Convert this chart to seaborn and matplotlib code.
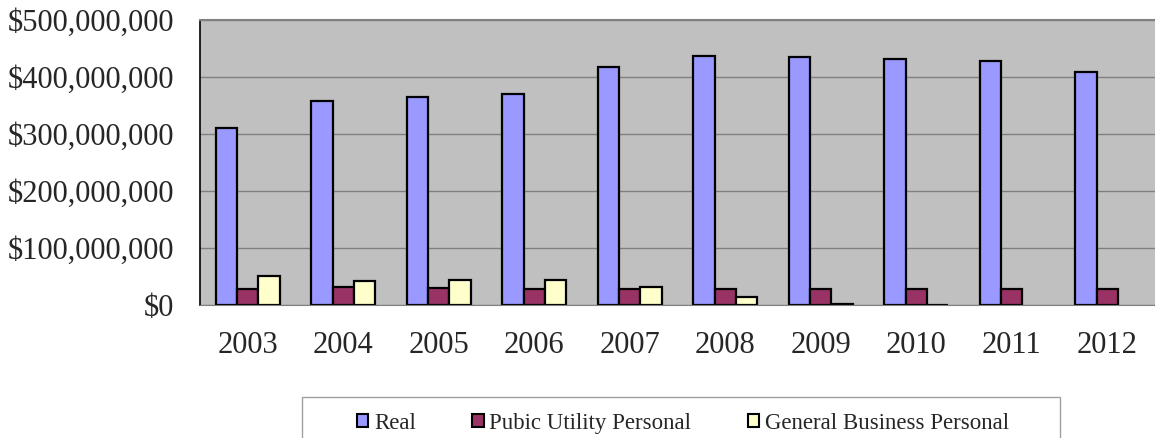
import pandas as pd
import matplotlib
matplotlib.use("Agg")
import matplotlib.pyplot as plt
import matplotlib.ticker as mticker
import seaborn as sns

years = ["2003", "2004", "2005", "2006", "2007", "2008", "2009", "2010", "2011", "2012"]
real = [311e6, 358e6, 365e6, 370e6, 418e6, 437e6, 435e6, 432e6, 428e6, 408e6]
public_utility = [28e6, 31e6, 30e6, 28.5e6, 28e6, 27.5e6, 28.5e6, 27.5e6, 27.5e6, 27.5e6]
general_business = [51e6, 41.5e6, 44e6, 44e6, 31.5e6, 14e6, 1.5e6, 0.7e6, None, None]
series_names = ["Real", "Pubic Utility Personal", "General Business Personal"]
colors = ["#9999FF", "#993366", "#FFFFCC"]

df = pd.DataFrame({
    "year": years * 3,
    "value": real + public_utility + general_business,
    "series": [s for s in series_names for _ in years],
}).dropna()

sns.set_style("white")
plt.rcParams["font.family"] = ["Liberation Serif", "DejaVu Serif"]

fig = plt.figure(figsize=(11.55, 4.38), dpi=100)
ax = fig.add_axes([200 / 1155, (438 - 305) / 438, 955 / 1155, 285 / 438])
ax.set_facecolor("#C0C0C0")

sns.barplot(
    data=df, x="year", y="value", hue="series",
    order=years, hue_order=series_names,
    palette=colors, saturation=1, width=0.67,
    edgecolor="black", linewidth=1.6, ax=ax, legend=False,
)

ax.set_ylim(0, 500e6)
ax.set_xlim(-0.5, len(years) - 0.5)
ax.set_yticks(range(0, 500_000_001, 100_000_000))
ax.yaxis.set_major_formatter(mticker.FuncFormatter(lambda v, p: f"${v:,.0f}"))
ax.grid(axis="y", color="#808080", linewidth=1)
ax.set_axisbelow(True)
ax.set_xlabel("")
ax.set_ylabel("")

ax.set_xticks([i - 0.5 for i in range(len(years) + 1)], minor=True)
ax.tick_params(axis="x", which="major", length=0, pad=19, labelsize=22)
ax.tick_params(axis="x", which="minor", length=8, color="#808080", width=1)
ax.tick_params(axis="y", length=8, color="#808080", width=1, pad=10.5, labelsize=22)

ax.spines["right"].set_visible(False)
ax.spines["top"].set_color("#808080")
ax.spines["top"].set_linewidth(1.5)
ax.spines["bottom"].set_color("#808080")
ax.spines["left"].set_color("black")
ax.spines["left"].set_linewidth(1.2)

# legend frame, runs past the bottom edge like the original
fig.patches.append(plt.Rectangle(
    (302 / 1155, -0.1), (1060 - 302) / 1155, 1.1 - 397 / 438,
    transform=fig.transFigure, facecolor="white", edgecolor="#A0A0A0", linewidth=1,
))

handles = [plt.Rectangle((0, 0), 1, 1, facecolor=c, edgecolor="black", linewidth=1.5) for c in colors]
fig.legend(
    handles, series_names, loc="upper left", bbox_to_anchor=(357 / 1155, 1 - 413 / 438),
    ncol=3, fontsize=16.5, frameon=False,
    handlelength=0.5, handleheight=0.5, handletextpad=0.25, columnspacing=2.45,
    borderpad=0, borderaxespad=0,
)

fig.savefig("out.png", dpi=100)
